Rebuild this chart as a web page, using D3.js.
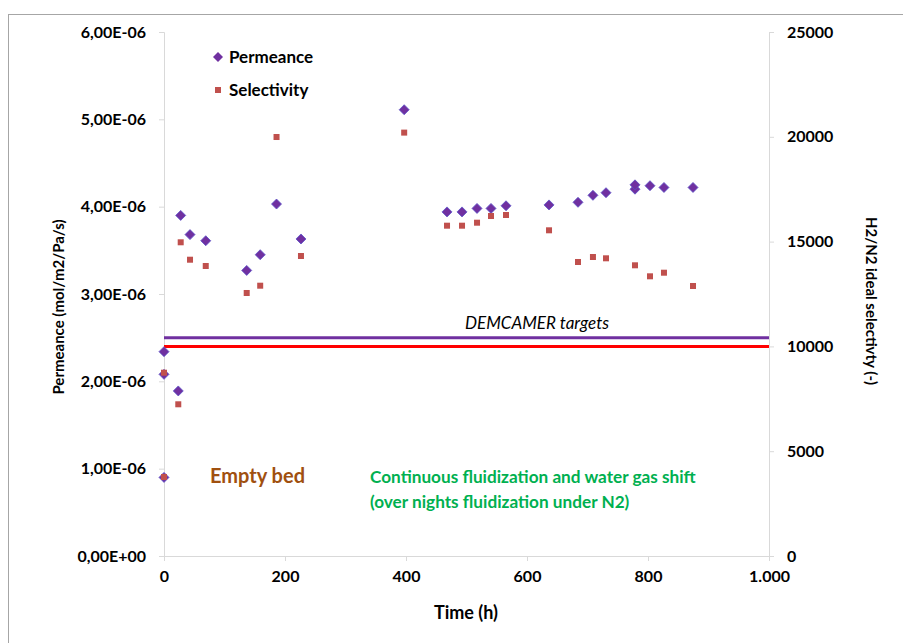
<!DOCTYPE html>
<html><head><meta charset="utf-8">
<script src="https://cdn.jsdelivr.net/npm/d3@7"></script>
<style>
body{margin:0;background:#fff;}
svg text{font-family:Lato, "Open Sans", sans-serif;}
</style></head>
<body><svg id="c" width="903" height="643"></svg>
<script>
// ---- data ----
const permTime = [0, 0, 0, 23.6, 27.6, 43, 69, 136.7, 159, 186, 226.4, 397, 467.8, 492.6, 517.4, 540.5, 565.3, 636.4, 684.3, 709, 730.6, 778.5, 778.5, 803.3, 826.4, 874.4];
const permValue = [0.90e-6, 2.34e-6, 2.08e-6, 1.89e-6, 3.90e-6, 3.68e-6, 3.61e-6, 3.27e-6, 3.45e-6, 4.03e-6, 3.63e-6, 5.11e-6, 3.94e-6, 3.94e-6, 3.98e-6, 3.98e-6, 4.01e-6, 4.02e-6, 4.05e-6, 4.13e-6, 4.16e-6, 4.20e-6, 4.25e-6, 4.24e-6, 4.22e-6, 4.22e-6];
const selTime = [0, 0, 23.6, 27.6, 43, 69, 136.7, 159, 186, 226.4, 397, 467.8, 492.6, 517.4, 540.5, 565.3, 636.4, 684.3, 709, 730.6, 778.5, 803.3, 826.4, 874.4];
const selValue = [3770, 8745, 7238, 14967, 14136, 13836, 12548, 12896, 19990, 14313, 20200, 15759, 15759, 15902, 16221, 16269, 15539, 14027, 14265, 14203, 13869, 13344, 13516, 12882];
const permTarget = 2.5e-6;
const selTarget = 10000;
const leftTicks = [0, 1e-6, 2e-6, 3e-6, 4e-6, 5e-6, 6e-6];
const leftTickLabels = ["0,00E+00", "1,00E-06", "2,00E-06", "3,00E-06", "4,00E-06", "5,00E-06", "6,00E-06"];
const rightTicks = [0, 5000, 10000, 15000, 20000, 25000];
const rightTickLabels = ["0", "5000", "10000", "15000", "20000", "25000"];
const xTicks = [0, 200, 400, 600, 800, 1000];
const xTickLabels = ["0", "200", "400", "600", "800", "1.000"];

// ---- layout ----
const svg = d3.select("#c");
const L = 164, R = 769, T = 32, B = 556;
const x = d3.scaleLinear().domain([0, 1000]).range([L, R]);
const yL = d3.scaleLinear().domain([0, 6e-6]).range([B, T]);
const yR = d3.scaleLinear().domain([0, 25000]).range([B, T]);
const axisColor = "#d9d9d9";

// outer border
svg.append("rect").attr("x", 8.5).attr("y", 14.5).attr("width", 920).attr("height", 660)
  .attr("fill", "none").attr("stroke", "#a6a6a6").attr("stroke-width", 1);

function styleAxis(g){
  g.selectAll("path,line").attr("stroke", axisColor).attr("stroke-width", 1);
  g.selectAll("text").attr("fill", "#000").attr("font-size", 16).attr("font-weight", "bold")
    .attr("font-family", "Lato, 'Open Sans', sans-serif");
}

const gx = svg.append("g").attr("transform", `translate(0,${B})`)
  .call(d3.axisBottom(x).tickValues(xTicks).tickSizeOuter(0).tickSize(5).tickPadding(10)
    .tickFormat((d, i) => xTickLabels[i]));
styleAxis(gx);

const gl = svg.append("g").attr("transform", `translate(${L},0)`)
  .call(d3.axisLeft(yL).tickValues(leftTicks).tickSizeOuter(0).tickSize(5).tickPadding(13)
    .tickFormat((d, i) => leftTickLabels[i]));
styleAxis(gl);

const gr = svg.append("g").attr("transform", `translate(${R},0)`)
  .call(d3.axisRight(yR).tickValues(rightTicks).tickSizeOuter(0).tickSize(5).tickPadding(13)
    .tickFormat((d, i) => rightTickLabels[i]));
styleAxis(gr);

// axis titles
svg.append("text").attr("transform", `translate(64,307) rotate(-90)`)
  .attr("text-anchor", "middle").attr("font-size", 15).attr("font-weight", "bold")
  .text("Permeance (mol/m2/Pa/s)");
svg.append("text").attr("transform", `translate(866,301) rotate(90)`)
  .attr("text-anchor", "middle").attr("font-size", 15).attr("font-weight", "bold")
  .text("H2/N2 ideal selectivty (-)");
svg.append("text").attr("x", 466).attr("y", 619)
  .attr("text-anchor", "middle").attr("font-size", 18).attr("font-weight", "bold")
  .text("Time (h)");

// target lines
svg.append("line").attr("x1", x(0)).attr("x2", x(1000)).attr("y1", yL(permTarget)).attr("y2", yL(permTarget))
  .attr("stroke", "#7030A0").attr("stroke-width", 3);
svg.append("line").attr("x1", x(0)).attr("x2", x(1000)).attr("y1", yR(selTarget)).attr("y2", yR(selTarget))
  .attr("stroke", "#FF0000").attr("stroke-width", 3);
svg.append("text").attr("x", 537).attr("y", 329).attr("text-anchor", "middle")
  .attr("font-size", 17).attr("font-style", "italic").attr("fill", "#000")
  .text("DEMCAMER targets");

// permeance diamonds
const ds = 5;
const diamond = (cx, cy) => `M${cx},${cy - ds}L${cx + ds},${cy}L${cx},${cy + ds}L${cx - ds},${cy}Z`;
svg.append("g").selectAll("path").data(permTime).join("path")
  .attr("d", (d, i) => diamond(x(d), yL(permValue[i])))
  .attr("fill", "#7030A0").attr("stroke", "#5b50c8").attr("stroke-width", 0.8);

// selectivity squares
const sq = 6;
svg.append("g").selectAll("rect").data(selTime).join("rect")
  .attr("x", (d) => x(d) - sq / 2)
  .attr("y", (d, i) => yR(selValue[i]) - sq / 2)
  .attr("width", sq).attr("height", sq)
  .attr("fill", "#C0504D");

// legend
svg.append("path").attr("d", `M218,52L223,57L218,62L213,57Z`).attr("fill", "#7030A0");
svg.append("text").attr("x", 229).attr("y", 63).attr("font-size", 17).attr("font-weight", "bold").text("Permeance");
svg.append("rect").attr("x", 215).attr("y", 87).attr("width", 6).attr("height", 6).attr("fill", "#C0504D");
svg.append("text").attr("x", 229).attr("y", 96).attr("font-size", 17).attr("font-weight", "bold").text("Selectivity");

// annotations
svg.append("text").attr("x", 210).attr("y", 483).attr("font-size", 20).attr("font-weight", "bold")
  .attr("fill", "#A0500F").text("Empty bed");
svg.append("text").attr("x", 370).attr("y", 483).attr("font-size", 17.2).attr("font-weight", "bold")
  .attr("fill", "#00B050").text("Continuous fluidization and water gas shift");
svg.append("text").attr("x", 370).attr("y", 508).attr("font-size", 17.2).attr("font-weight", "bold")
  .attr("fill", "#00B050").text("(over nights fluidization under N2)");
</script></body></html>
